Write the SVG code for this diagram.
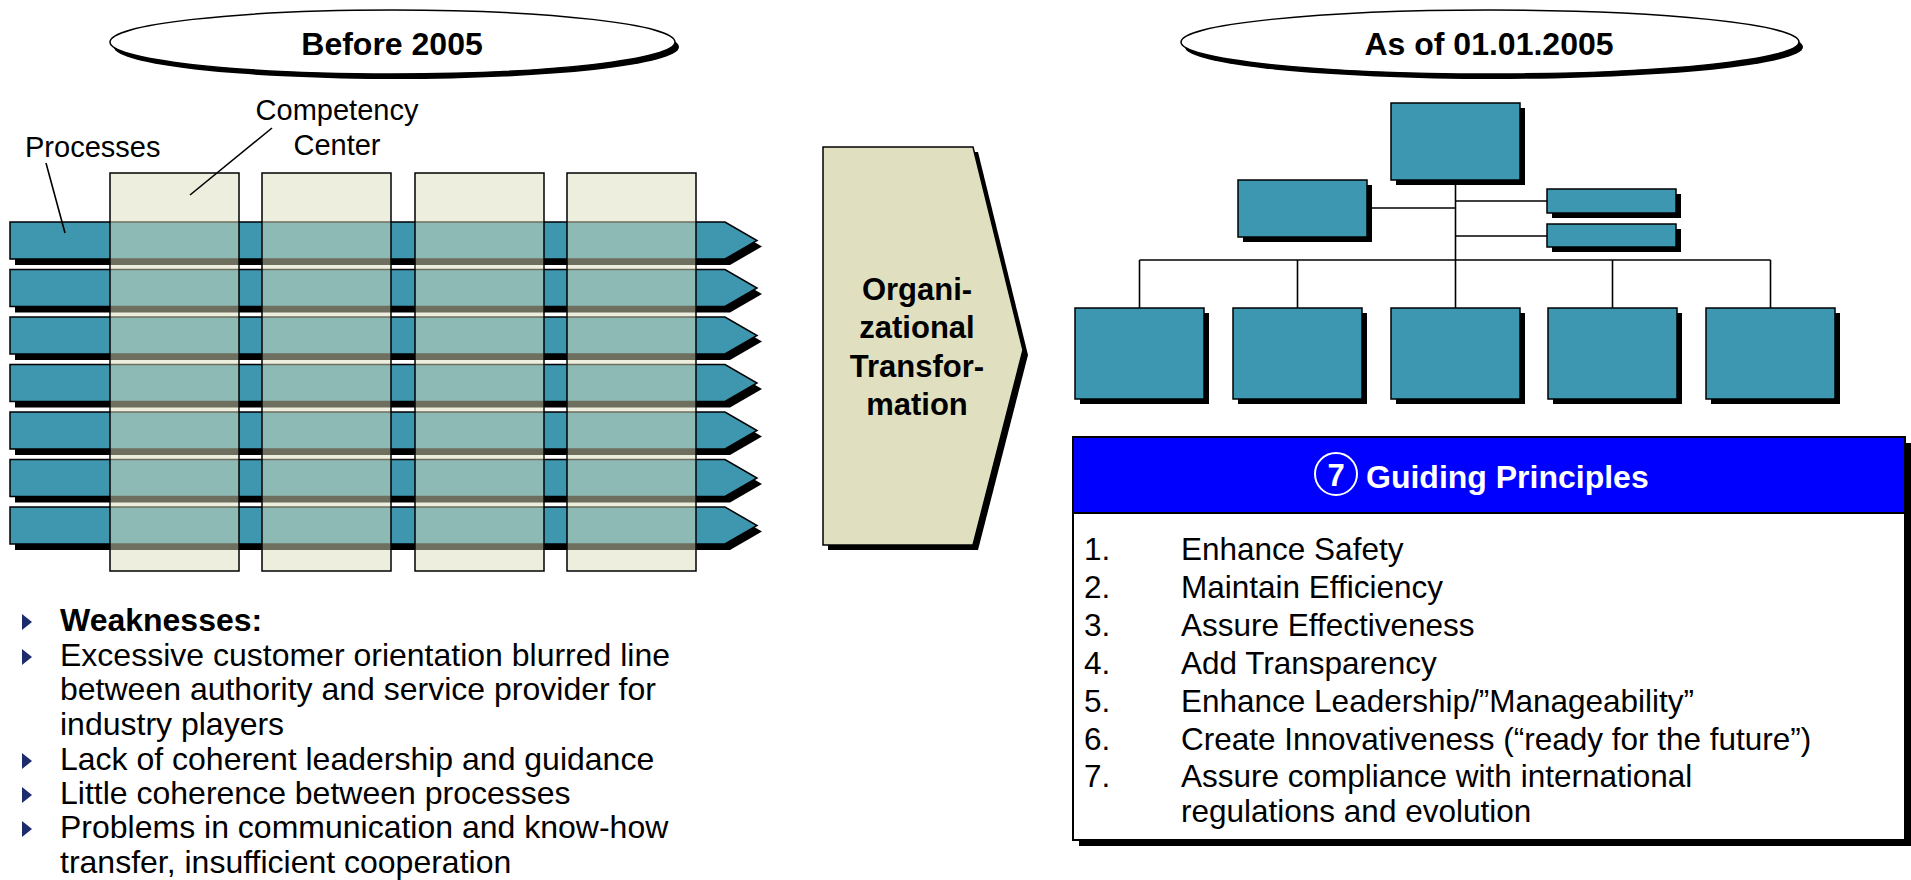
<svg xmlns="http://www.w3.org/2000/svg" xmlns:xlink="http://www.w3.org/1999/xlink" width="1911" height="880" viewBox="0 0 1911 880">
<style>
  .t { font-family: "Liberation Sans", Arial, sans-serif; fill: #000; }
  .b { font-weight: bold; }
  .arrow { fill: #3E96AF; stroke: #000; stroke-width: 1.5; }
  .shadow { fill: #000; }
  .col { fill: #DEDEBE; fill-opacity: 0.5; stroke: #000; stroke-width: 1.5; }
  .box { fill: #3E97B0; stroke: #000; stroke-width: 1.5; }
  .line { stroke: #000; stroke-width: 1.6; fill: none; }
  .ell { fill: #fff; stroke: #000; stroke-width: 1.5; }
  .bul { fill: #1C2C6C; }
</style>
<defs>
  <path id="arr" d="M10,0 H725 L757,18.5 L725,37 H10 Z"/>
  <path id="arrsh" d="M15,6 H730 L762,24.5 L730,43 H15 Z"/>
  <path id="tri" d="M0,-8 L10,0 L0,8 Z"/>
</defs>

<g id="title-before">
  <ellipse cx="396.5" cy="47" rx="282.5" ry="32" class="shadow"/>
  <ellipse cx="392.5" cy="42" rx="282.5" ry="32" class="ell"/>
  <text x="392" y="55" class="t b" font-size="32" text-anchor="middle">Before 2005</text>
</g>

<g id="title-asof">
  <ellipse cx="1494" cy="47" rx="309" ry="32" class="shadow"/>
  <ellipse cx="1490" cy="42" rx="309" ry="32" class="ell"/>
  <text x="1489" y="55" class="t b" font-size="32" text-anchor="middle">As of 01.01.2005</text>
</g>

<g id="processes">
  <use xlink:href="#arrsh" class="shadow" transform="translate(0,222)"/>
  <use xlink:href="#arr" class="arrow" transform="translate(0,222)"/>
  <use xlink:href="#arrsh" class="shadow" transform="translate(0,269.5)"/>
  <use xlink:href="#arr" class="arrow" transform="translate(0,269.5)"/>
  <use xlink:href="#arrsh" class="shadow" transform="translate(0,317)"/>
  <use xlink:href="#arr" class="arrow" transform="translate(0,317)"/>
  <use xlink:href="#arrsh" class="shadow" transform="translate(0,364.5)"/>
  <use xlink:href="#arr" class="arrow" transform="translate(0,364.5)"/>
  <use xlink:href="#arrsh" class="shadow" transform="translate(0,412)"/>
  <use xlink:href="#arr" class="arrow" transform="translate(0,412)"/>
  <use xlink:href="#arrsh" class="shadow" transform="translate(0,459.5)"/>
  <use xlink:href="#arr" class="arrow" transform="translate(0,459.5)"/>
  <use xlink:href="#arrsh" class="shadow" transform="translate(0,507)"/>
  <use xlink:href="#arr" class="arrow" transform="translate(0,507)"/>
</g>

<g id="competency-centers">
  <rect x="110" y="173" width="129" height="398" class="col"/>
  <rect x="262" y="173" width="129" height="398" class="col"/>
  <rect x="415" y="173" width="129" height="398" class="col"/>
  <rect x="567" y="173" width="129" height="398" class="col"/>
</g>

<g id="labels-left">
  <text x="25" y="157" class="t" font-size="29">Processes</text>
  <text x="337" y="120" class="t" font-size="29" text-anchor="middle">Competency</text>
  <text x="337" y="155" class="t" font-size="29" text-anchor="middle">Center</text>
</g>

<g id="transformation">
  <path d="M828,152 H978 L1028,355 L978,550 H828 Z" class="shadow"/>
  <path d="M823,147 H973 L1023,350 L973,545 H823 Z" fill="#E0E0C0" stroke="#000" stroke-width="1.5"/>
  <text x="917" y="300" class="t b" font-size="31" text-anchor="middle">Organi-</text>
  <text x="917" y="338" class="t b" font-size="31" text-anchor="middle">zational</text>
  <text x="917" y="377" class="t b" font-size="31" text-anchor="middle">Transfor-</text>
  <text x="917" y="415" class="t b" font-size="31" text-anchor="middle">mation</text>
</g>

<g id="org-top">
  <rect x="1396" y="108" width="129" height="77" class="shadow"/>
  <rect x="1391" y="103" width="129" height="77" class="box"/>
</g>
<g id="org-staff-left">
  <rect x="1243" y="185" width="129" height="57" class="shadow"/>
  <rect x="1238" y="180" width="129" height="57" class="box"/>
</g>
<g id="org-staff-right-1">
  <rect x="1552" y="194" width="129" height="24" class="shadow"/>
  <rect x="1547" y="189" width="129" height="24" class="box"/>
</g>
<g id="org-staff-right-2">
  <rect x="1552" y="229" width="129" height="23" class="shadow"/>
  <rect x="1547" y="224" width="129" height="23" class="box"/>
</g>
<g id="org-unit-1">
  <rect x="1080" y="313" width="129" height="91" class="shadow"/>
  <rect x="1075" y="308" width="129" height="91" class="box"/>
</g>
<g id="org-unit-2">
  <rect x="1238" y="313" width="129" height="91" class="shadow"/>
  <rect x="1233" y="308" width="129" height="91" class="box"/>
</g>
<g id="org-unit-3">
  <rect x="1396" y="313" width="129" height="91" class="shadow"/>
  <rect x="1391" y="308" width="129" height="91" class="box"/>
</g>
<g id="org-unit-4">
  <rect x="1553" y="313" width="129" height="91" class="shadow"/>
  <rect x="1548" y="308" width="129" height="91" class="box"/>
</g>
<g id="org-unit-5">
  <rect x="1711" y="313" width="129" height="91" class="shadow"/>
  <rect x="1706" y="308" width="129" height="91" class="box"/>
</g>

<g id="connectors">
  <line x1="46" y1="163" x2="65" y2="233" class="line"/>
  <line x1="272" y1="128" x2="190" y2="195" class="line"/>
  <line x1="1455.5" y1="180" x2="1455.5" y2="308" class="line"/>
  <line x1="1367" y1="208" x2="1455.5" y2="208" class="line"/>
  <line x1="1455.5" y1="201" x2="1547" y2="201" class="line"/>
  <line x1="1455.5" y1="236" x2="1547" y2="236" class="line"/>
  <line x1="1139.5" y1="260" x2="1770.5" y2="260" class="line"/>
  <line x1="1139.5" y1="260" x2="1139.5" y2="308" class="line"/>
  <line x1="1297.5" y1="260" x2="1297.5" y2="308" class="line"/>
  <line x1="1612.5" y1="260" x2="1612.5" y2="308" class="line"/>
  <line x1="1770.5" y1="260" x2="1770.5" y2="308" class="line"/>
</g>

<g id="weaknesses">
  <use xlink:href="#tri" class="bul" transform="translate(22,622)"/>
  <use xlink:href="#tri" class="bul" transform="translate(22,657)"/>
  <use xlink:href="#tri" class="bul" transform="translate(22,761)"/>
  <use xlink:href="#tri" class="bul" transform="translate(22,795)"/>
  <use xlink:href="#tri" class="bul" transform="translate(22,829)"/>
  <text x="60" y="631" class="t b" font-size="32">Weaknesses:</text>
  <text x="60" y="666" class="t" font-size="32">Excessive customer orientation blurred line</text>
  <text x="60" y="700" class="t" font-size="32">between authority and service provider for</text>
  <text x="60" y="735" class="t" font-size="32">industry players</text>
  <text x="60" y="770" class="t" font-size="32">Lack of coherent leadership and guidance</text>
  <text x="60" y="804" class="t" font-size="32">Little coherence between processes</text>
  <text x="60" y="838" class="t" font-size="32">Problems in communication and know-how</text>
  <text x="60" y="873" class="t" font-size="32">transfer, insufficient cooperation</text>
</g>

<g id="guiding-principles">
  <rect x="1079" y="443" width="832" height="403" class="shadow"/>
  <rect x="1073" y="437" width="832" height="403" fill="#fff" stroke="#000" stroke-width="2"/>
  <rect x="1073" y="437" width="832" height="76" fill="#0000FF" stroke="#000" stroke-width="2"/>
  <circle cx="1336" cy="474" r="21" fill="none" stroke="#fff" stroke-width="2"/>
  <text x="1336" y="486" class="t b" font-size="31" text-anchor="middle" style="fill:#fff">7</text>
  <text x="1366" y="488" class="t b" font-size="32" style="fill:#fff">Guiding Principles</text>
  <g class="t" font-size="31.5">
    <text x="1084" y="560">1.</text><text x="1181" y="560">Enhance Safety</text>
    <text x="1084" y="598">2.</text><text x="1181" y="598">Maintain Efficiency</text>
    <text x="1084" y="636">3.</text><text x="1181" y="636">Assure Effectiveness</text>
    <text x="1084" y="674">4.</text><text x="1181" y="674">Add Transparency</text>
    <text x="1084" y="712">5.</text><text x="1181" y="712">Enhance Leadership/”Manageability”</text>
    <text x="1084" y="750">6.</text><text x="1181" y="750">Create Innovativeness (“ready for the future”)</text>
    <text x="1084" y="787">7.</text><text x="1181" y="787">Assure compliance with international</text>
    <text x="1181" y="822">regulations and evolution</text>
  </g>
</g>
</svg>
